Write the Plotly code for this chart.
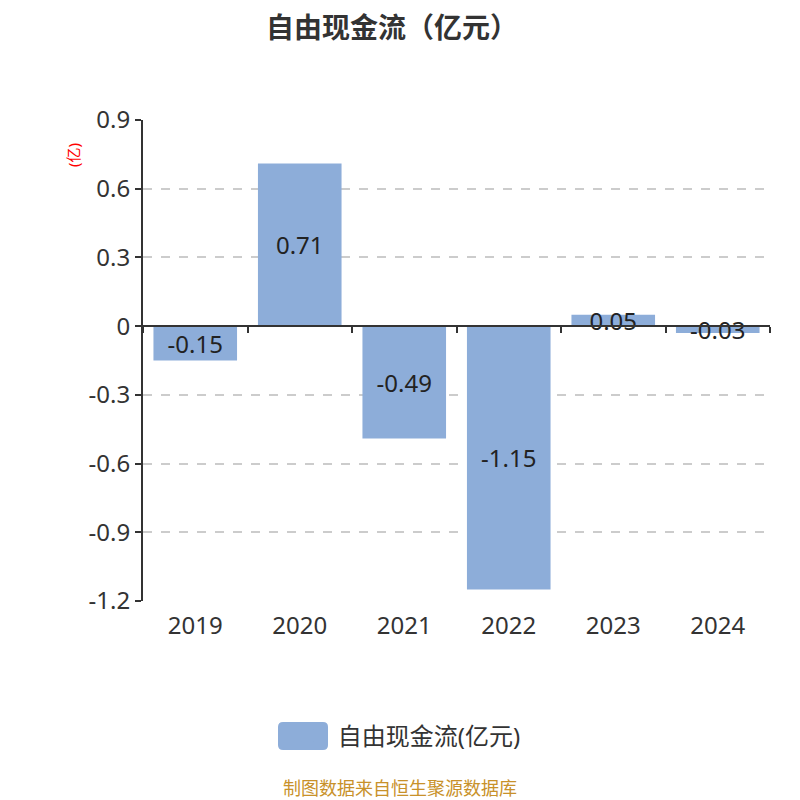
import plotly.graph_objects as go

YEARS = ["2019", "2020", "2021", "2022", "2023", "2024"]
FCF = [-0.15, 0.71, -0.49, -1.15, 0.05, -0.03]
LABELS = [f"{v:.2f}" for v in FCF]
Y_TICKS = [0.9, 0.6, 0.3, 0, -0.3, -0.6, -0.9, -1.2]
Y_TICK_TEXT = ["0.9", "0.6", "0.3", "0", "-0.3", "-0.6", "-0.9", "-1.2"]

FONT = "Noto Sans, Noto Sans CJK SC, sans-serif"
BAR_COLOR = "#8dadd9"
Y_MIN, Y_MAX = -1.2, 0.9

fig = go.Figure()
fig.add_trace(
    go.Bar(
        x=list(range(len(YEARS))),
        y=FCF,
        name="自由现金流(亿元)",
        marker={"color": BAR_COLOR, "line": {"width": 0, "color": BAR_COLOR}},
        text=LABELS,
        textposition="inside",
        insidetextanchor="middle",
        constraintext="none",
        textfont={"size": 24, "color": "#222222", "family": FONT},
        cliponaxis=False,
        hoverinfo="skip",
    )
)

fig.update_layout(
    width=800,
    height=800,
    margin={"l": 135, "r": 38, "t": 112, "b": 207},
    paper_bgcolor="white",
    plot_bgcolor="white",
    bargap=0.2,
    font={"family": FONT, "color": "#333333"},
    title={
        "text": "<b>自由现金流（亿元）</b>",
        "x": 0.48,
        "xanchor": "center",
        "y": 0.975,
        "yanchor": "middle",
        "font": {"size": 28, "color": "#333333", "family": FONT},
    },
    showlegend=True,
    legend={
        "orientation": "h",
        "x": 0.2151,
        "xanchor": "left",
        "y": -0.2807,
        "yanchor": "middle",
        "bgcolor": "rgba(0,0,0,0)",
        "font": {"size": 24, "color": "#333333"},
        "itemwidth": 50,
    },
    xaxis={
        "tickmode": "array",
        "tickvals": list(range(len(YEARS))),
        "ticktext": YEARS,
        "range": [-0.5, len(YEARS) - 0.5],
        "showline": False,
        "showgrid": False,
        "zeroline": False,
        "ticks": "",
        "ticklabelstandoff": 8,
        "tickfont": {"size": 24, "color": "#333333"},
    },
    # second x axis used only to draw the category line at y = 0
    xaxis2={
        "overlaying": "x",
        "anchor": "free",
        "position": (0 - Y_MIN) / (Y_MAX - Y_MIN),
        "range": [-0.5, len(YEARS) - 0.5],
        "tickmode": "array",
        "tickvals": [i - 0.5 for i in range(len(YEARS) + 1)],
        "showticklabels": False,
        "showline": True,
        "linecolor": "#333333",
        "linewidth": 2,
        "ticks": "outside",
        "ticklen": 6,
        "tickwidth": 2,
        "tickcolor": "#333333",
        "showgrid": False,
        "zeroline": False,
        "side": "bottom",
    },
    yaxis={
        "range": [Y_MIN, Y_MAX],
        "tickmode": "array",
        "tickvals": Y_TICKS,
        "ticktext": Y_TICK_TEXT,
        "showline": True,
        "linecolor": "#333333",
        "linewidth": 2,
        "ticks": "outside",
        "ticklen": 6,
        "tickwidth": 2,
        "tickcolor": "#333333",
        "showgrid": True,
        "gridcolor": "#cccccc",
        "griddash": "dash",
        "gridwidth": 1.5,
        "zeroline": False,
        "tickfont": {"size": 24, "color": "#333333"},
    },
)

# invisible trace so the overlay axis is rendered
fig.add_trace(
    go.Scatter(
        x=[0],
        y=[0],
        xaxis="x2",
        mode="markers",
        marker={"opacity": 0},
        showlegend=False,
        hoverinfo="skip",
    )
)

# wide rounded legend swatch, like the original chart's legend key
fig.add_shape(
    type="path",
    xref="paper",
    yref="paper",
    xsizemode="pixel",
    ysizemode="pixel",
    xanchor=0.2552,
    yanchor=-0.2807,
    path=(
        "M-20,-14 L20,-14 Q25,-14 25,-9 L25,9 Q25,14 20,14 "
        "L-20,14 Q-25,14 -25,9 L-25,-9 Q-25,-14 -20,-14 Z"
    ),
    fillcolor=BAR_COLOR,
    line={"width": 0},
    layer="above",
)

fig.add_annotation(
    text="(亿)",
    textangle=-90,
    x=-0.131,
    xref="paper",
    y=0.956,
    yref="paper",
    showarrow=False,
    font={"size": 15, "color": "#ff0000", "family": FONT},
)
fig.add_annotation(
    text="制图数据来自恒生聚源数据库",
    x=0.41,
    xref="paper",
    y=-0.388,
    yref="paper",
    xanchor="center",
    yanchor="middle",
    showarrow=False,
    font={"size": 18, "color": "#c8912a", "family": FONT},
)

fig.write_html("out.html")
